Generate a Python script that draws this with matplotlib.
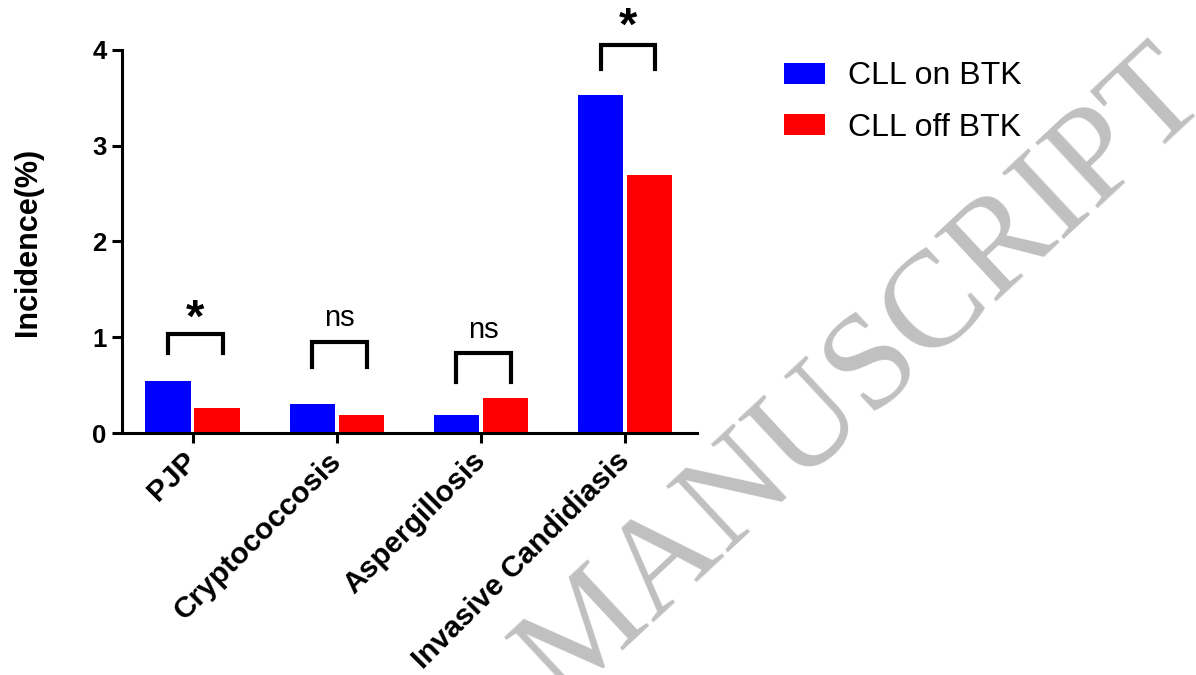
import matplotlib
import matplotlib.pyplot as plt
import numpy as np

matplotlib.use("Agg")

# Data
categories = ["PJP", "Cryptococcosis", "Aspergillosis", "Invasive Candidiasis"]
on_btk = [0.54, 0.30, 0.19, 3.53]
off_btk = [0.26, 0.19, 0.37, 2.69]
series_labels = ["CLL on BTK", "CLL off BTK"]

# Significance brackets: top of bracket, bottom of legs, mark, mark height
bracket_top = [1.03, 0.95, 0.84, 4.05]
bracket_leg = [0.84, 0.69, 0.53, 3.80]
sig_marks = ["*", "ns", "ns", "*"]
mark_y = [1.18, 1.20, 1.08, 4.23]

plt.rcParams["font.family"] = ["Liberation Sans", "DejaVu Sans"]

fig = plt.figure(figsize=(11.96, 6.75), dpi=100)
ax = fig.add_axes([0.102, 0.3585, 0.481, 0.5675])

x = np.arange(len(categories))
width = 0.315
ax.bar(x - 0.17, on_btk, width, color="#0000ff", label=series_labels[0])
ax.bar(x + 0.17, off_btk, width, color="#ff0000", label=series_labels[1])

# Brackets with stars / ns above each pair
for i in range(len(categories)):
    xl, xr = x[i] - 0.17, x[i] + 0.21
    ax.plot([xl, xl, xr, xr],
            [bracket_leg[i], bracket_top[i], bracket_top[i], bracket_leg[i]],
            color="black", lw=3, solid_joinstyle="miter", clip_on=False)
    if sig_marks[i] == "*":
        ax.text((xl + xr) / 2, mark_y[i], "*", ha="center", va="center",
                fontsize=34, fontweight="bold", clip_on=False)
    else:
        ax.text((xl + xr) / 2, mark_y[i], "ns", ha="center", va="center",
                fontsize=21, clip_on=False)

ax.set_xlim(-0.49, 3.5)
ax.set_ylim(0, 4)
ax.set_yticks([0, 1, 2, 3, 4])
ax.set_xticks(x)
ax.set_xticklabels(categories, rotation=45, ha="right", va="center",
                   rotation_mode="anchor", fontsize=21.5, fontweight="bold")
for lbl in ax.get_yticklabels():
    lbl.set_fontweight("bold")
ax.tick_params(axis="y", labelsize=18.5, length=7, width=2.2, pad=4)
ax.tick_params(axis="x", length=7, width=2.2, pad=10)

for side in ["top", "right"]:
    ax.spines[side].set_visible(False)
for side in ["left", "bottom"]:
    ax.spines[side].set_linewidth(2.2)

ax.set_ylabel("Incidence(%)", fontsize=22, fontweight="bold")
ax.yaxis.set_label_coords(-0.137, 0.5)

fig.legend(loc="upper left", bbox_to_anchor=(0.6555, 0.909), frameon=False,
           fontsize=23, handlelength=1.28, handleheight=0.625,
           handletextpad=0.72, labelspacing=0.66, borderpad=0,
           borderaxespad=0)

# Watermark left over from the source page
fig.text(0.722, 0.442, "MANUSCRIPT", rotation=43, ha="center", va="center",
         rotation_mode="anchor", fontsize=99, color="#c0c0c0",
         family="Liberation Serif", zorder=0)

fig.savefig("out.png", dpi=100)
